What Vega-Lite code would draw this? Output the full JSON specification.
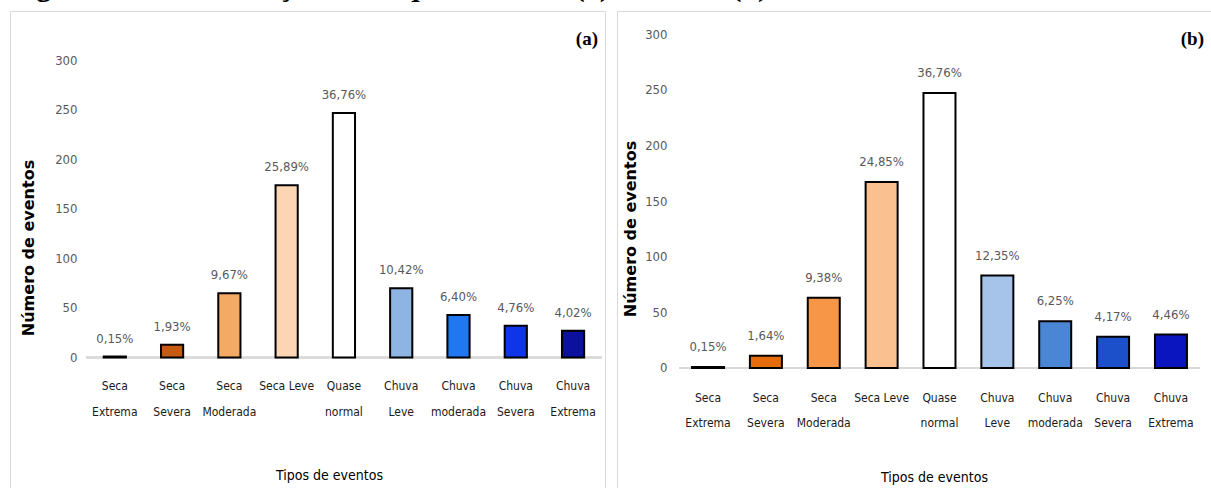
{
  "$schema": "https://vega.github.io/schema/vega-lite/v6.json",
  "padding": {"left": 9, "top": -29, "right": 0, "bottom": 0},
  "autosize": {"type": "pad"},
  "title": {"text": "Figura 31 – Distribuição de frequência SPI: (a) Castilho (b) Braúna", "anchor": "start", "font": "Liberation Serif", "fontSize": 30, "fontWeight": "bold", "color": "#000000", "offset": 9},
  "spacing": 10,
  "config": {
    "view": {"stroke": "#D9D9D9", "strokeWidth": 1},
    "axis": {"grid": false, "domain": false, "ticks": false, "labelFont": "DejaVu Sans Condensed, Liberation Sans, sans-serif", "titleFont": "DejaVu Sans Condensed, Liberation Sans, sans-serif"}
  },
  "hconcat": [
    {
      "width": 595,
      "height": 480,
      "title": {"text": "(a)", "anchor": "end", "offset": -38, "dx": -7, "font": "Liberation Serif", "fontSize": 19, "fontWeight": "bold", "color": "#000000"},
      "data": {"values": [
        {"tipo": "Seca Extrema", "n": 1, "pct": "0,15%"},
        {"tipo": "Seca Severa", "n": 13, "pct": "1,93%"},
        {"tipo": "Seca Moderada", "n": 65, "pct": "9,67%"},
        {"tipo": "Seca Leve", "n": 174, "pct": "25,89%"},
        {"tipo": "Quase normal", "n": 247, "pct": "36,76%"},
        {"tipo": "Chuva Leve", "n": 70, "pct": "10,42%"},
        {"tipo": "Chuva moderada", "n": 43, "pct": "6,40%"},
        {"tipo": "Chuva Severa", "n": 32, "pct": "4,76%"},
        {"tipo": "Chuva Extrema", "n": 27, "pct": "4,02%"}
      ]},
      "encoding": {
        "x": {"field": "tipo", "type": "nominal", "sort": null,
          "scale": {"domain": ["Seca Extrema", "Seca Severa", "Seca Moderada", "Seca Leve", "Quase normal", "Chuva Leve", "Chuva moderada", "Chuva Severa", "Chuva Extrema"], "paddingInner": 0.6127, "paddingOuter": 1.044, "align": 0.818},
          "axis": {"labelAngle": 0, "labelFontSize": 12, "labelColor": "#1a1a1a", "labelLineHeight": 26, "labelPadding": 0, "offset": -111,
            "labelExpr": "datum.label == 'Seca Leve' ? datum.label : split(datum.label, ' ')", "labelOverlap": false, "labelBound": false, "labelLimit": 0,
            "title": "Tipos de eventos", "titleFontSize": 14, "titleFontWeight": "normal", "titleColor": "#000000", "titleX": 319, "titleY": 95, "titleBaseline": "middle", "titleAlign": "center"}}
      },
      "layer": [
        {"mark": {"type": "rule", "color": "#D9D9D9", "strokeWidth": 1.5},
          "encoding": {"x": {"datum": "Seca Extrema", "bandPosition": -0.79}, "x2": {"datum": "Chuva Extrema", "bandPosition": 1.79}, "y": {"datum": 0, "type": "quantitative"}}},
        {"mark": {"type": "bar", "stroke": "#000000", "strokeWidth": 2},
          "encoding": {
            "y": {"field": "n", "type": "quantitative",
              "scale": {"domain": [-134.85, 350], "nice": false, "zero": false},
              "axis": {"values": [0, 50, 100, 150, 200, 250, 300], "labelFontSize": 13, "labelColor": "#595959", "labelPadding": 0, "offset": -67,
                "title": "Número de eventos", "titleFont": "DejaVu Sans", "titleFontSize": 16, "titleFontWeight": "bold", "titleColor": "#000000", "titleX": -48.5, "titleY": 236.5, "titleBaseline": "middle", "titleAlign": "center", "titleAngle": -90}},
            "color": {"field": "tipo", "type": "nominal", "legend": null,
              "scale": {"domain": ["Seca Extrema", "Seca Severa", "Seca Moderada", "Seca Leve", "Quase normal", "Chuva Leve", "Chuva moderada", "Chuva Severa", "Chuva Extrema"],
                "range": ["#7F7F7F", "#C55A11", "#F4A964", "#FCD5B4", "#FFFFFF", "#8EB4E3", "#1F77F2", "#0F35E8", "#0C109E"]}}
          }},
        {"mark": {"type": "text", "dy": -18, "baseline": "middle", "font": "DejaVu Sans Condensed, Liberation Sans, sans-serif", "fontSize": 13, "color": "#595959"},
          "encoding": {"y": {"field": "n", "type": "quantitative"}, "text": {"field": "pct"}}}
      ]
    },
    {
      "width": 600,
      "height": 480,
      "title": {"text": "(b)", "anchor": "end", "offset": -38, "dx": -13, "font": "Liberation Serif", "fontSize": 19, "fontWeight": "bold", "color": "#000000"},
      "data": {"values": [
        {"tipo": "Seca Extrema", "n": 1, "pct": "0,15%"},
        {"tipo": "Seca Severa", "n": 11, "pct": "1,64%"},
        {"tipo": "Seca Moderada", "n": 63, "pct": "9,38%"},
        {"tipo": "Seca Leve", "n": 167, "pct": "24,85%"},
        {"tipo": "Quase normal", "n": 247, "pct": "36,76%"},
        {"tipo": "Chuva Leve", "n": 83, "pct": "12,35%"},
        {"tipo": "Chuva moderada", "n": 42, "pct": "6,25%"},
        {"tipo": "Chuva Severa", "n": 28, "pct": "4,17%"},
        {"tipo": "Chuva Extrema", "n": 30, "pct": "4,46%"}
      ]},
      "encoding": {
        "x": {"field": "tipo", "type": "nominal", "sort": null,
          "scale": {"domain": ["Seca Extrema", "Seca Severa", "Seca Moderada", "Seca Leve", "Quase normal", "Chuva Leve", "Chuva moderada", "Chuva Severa", "Chuva Extrema"], "paddingInner": 0.447, "paddingOuter": 0.908, "align": 0.714},
          "axis": {"labelAngle": 0, "labelFontSize": 12, "labelColor": "#1a1a1a", "labelLineHeight": 25, "labelPadding": 0, "offset": -99,
            "labelExpr": "datum.label == 'Seca Leve' ? datum.label : split(datum.label, ' ')", "labelOverlap": false, "labelBound": false, "labelLimit": 0,
            "title": "Tipos de eventos", "titleFontSize": 14, "titleFontWeight": "normal", "titleColor": "#000000", "titleX": 317, "titleY": 85, "titleBaseline": "middle", "titleAlign": "center"}}
      },
      "layer": [
        {"mark": {"type": "rule", "color": "#D9D9D9", "strokeWidth": 1.5},
          "encoding": {"x": {"datum": "Seca Extrema", "bandPosition": -0.404}, "x2": {"datum": "Chuva Extrema", "bandPosition": 1.404}, "y": {"datum": 0, "type": "quantitative"}}},
        {"mark": {"type": "bar", "stroke": "#000000", "strokeWidth": 2},
          "encoding": {
            "y": {"field": "n", "type": "quantitative",
              "scale": {"domain": [-110.48, 320.66], "nice": false, "zero": false},
              "axis": {"values": [0, 50, 100, 150, 200, 250, 300], "labelFontSize": 13, "labelColor": "#595959", "labelPadding": 0, "offset": -50,
                "title": "Número de eventos", "titleFont": "DejaVu Sans", "titleFontSize": 16, "titleFontWeight": "bold", "titleColor": "#000000", "titleX": -36.5, "titleY": 217.5, "titleBaseline": "middle", "titleAlign": "center", "titleAngle": -90}},
            "color": {"field": "tipo", "type": "nominal", "legend": null,
              "scale": {"domain": ["Seca Extrema", "Seca Severa", "Seca Moderada", "Seca Leve", "Quase normal", "Chuva Leve", "Chuva moderada", "Chuva Severa", "Chuva Extrema"],
                "range": ["#3F3F3F", "#E46C0A", "#F79646", "#FAC090", "#FFFFFF", "#A6C4EA", "#4A86D4", "#1C4FCA", "#0A15C0"]}}
          }},
        {"mark": {"type": "text", "dy": -20, "baseline": "middle", "font": "DejaVu Sans Condensed, Liberation Sans, sans-serif", "fontSize": 13, "color": "#595959"},
          "encoding": {"y": {"field": "n", "type": "quantitative"}, "text": {"field": "pct"}}}
      ]
    }
  ],
  "resolve": {"scale": {"color": "independent", "x": "independent", "y": "independent"}}
}
